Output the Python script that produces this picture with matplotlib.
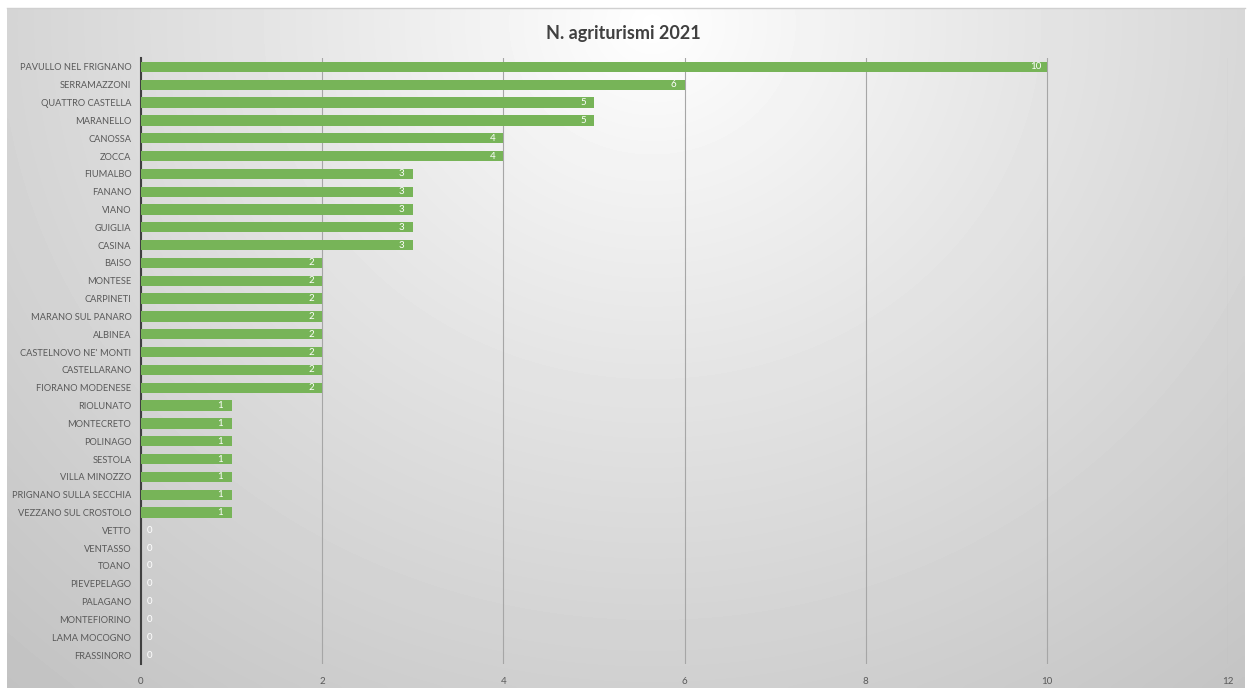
import numpy as np
import matplotlib
matplotlib.use("Agg")
import matplotlib.pyplot as plt

plt.rcParams['font.family'] = ['Lato', 'DejaVu Sans']

# comuni and number of agriturismi (2021)
comuni = ["PAVULLO NEL FRIGNANO", "SERRAMAZZONI", "QUATTRO CASTELLA", "MARANELLO",
          "CANOSSA", "ZOCCA", "FIUMALBO", "FANANO", "VIANO", "GUIGLIA", "CASINA",
          "BAISO", "MONTESE", "CARPINETI", "MARANO SUL PANARO", "ALBINEA",
          "CASTELNOVO NE' MONTI", "CASTELLARANO", "FIORANO MODENESE", "RIOLUNATO",
          "MONTECRETO", "POLINAGO", "SESTOLA", "VILLA MINOZZO",
          "PRIGNANO SULLA SECCHIA", "VEZZANO SUL CROSTOLO", "VETTO", "VENTASSO",
          "TOANO", "PIEVEPELAGO", "PALAGANO", "MONTEFIORINO", "LAMA MOCOGNO",
          "FRASSINORO"]
n_agriturismi = [10, 6, 5, 5, 4, 4, 3, 3, 3, 3, 3, 2, 2, 2, 2, 2, 2, 2, 2,
                 1, 1, 1, 1, 1, 1, 1, 0, 0, 0, 0, 0, 0, 0, 0]
x_ticks = [0, 2, 4, 6, 8, 10, 12]

bar_color = '#77b458'
text_color = '#595959'

fig = plt.figure(figsize=(12.47, 6.88), dpi=100)

# %% background: radial grey gradient like the Excel chart area
bg = fig.add_axes([7 / 1247, 0, 1 - 9 / 1247, 1 - 8 / 688], zorder=-10)
h, w = 200, 360
yy, xx = np.mgrid[0:h, 0:w]
cx, cy = 0.52 * w, 0.02 * h
r = np.sqrt(((xx - cx) / w) ** 2 + ((yy - cy) / h * 0.6) ** 2)
r = r / r.max()
shade = 1.0 - 0.24 * np.clip(r, 0, 1) ** 0.9
bg.imshow(shade, cmap='gray', vmin=0, vmax=1, aspect='auto',
          extent=[0, 1, 0, 1], origin='upper', interpolation='bicubic')
bg.set_xticks([])
bg.set_yticks([])
for side in ['left', 'bottom', 'right']:
    bg.spines[side].set_visible(False)
bg.spines['top'].set_color('#d0d0d0')
bg.spines['top'].set_linewidth(1)

# %% bar chart
ax = fig.add_axes([141 / 1247, 1 - 664 / 688, (1228 - 141) / 1247, 606 / 688])
ax.patch.set_alpha(0)

y = np.arange(len(comuni))
ax.barh(y, n_agriturismi, height=0.58, color=bar_color, zorder=3)

for yi, v in zip(y, n_agriturismi):
    if v > 0:
        ax.annotate(str(v), (v, yi), xytext=(-8, 0), textcoords='offset points',
                    ha='center', va='center', color='white', fontsize=7, zorder=4)
    else:
        ax.annotate(str(v), (v, yi), xytext=(6, 0), textcoords='offset points',
                    ha='center', va='center', color='white', fontsize=7, zorder=4)

ax.set_xlim(0, 12)
ax.set_ylim(len(comuni) - 0.5, -0.5)
ax.set_xticks(x_ticks)
ax.set_yticks(y)
ax.set_yticklabels(comuni, fontsize=6.7)
ax.tick_params(axis='both', length=0, colors=text_color)
ax.tick_params(axis='x', pad=9, labelsize=7)
ax.tick_params(axis='y', pad=7)

ax.grid(axis='x', color='#a6a6a6', linewidth=0.8, zorder=0)
for side in ['top', 'right', 'bottom']:
    ax.spines[side].set_visible(False)
ax.spines['left'].set_color('#404040')
ax.spines['left'].set_linewidth(1.5)

fig.text(0.5, 1 - 33 / 688, 'N. agriturismi 2021', ha='center', va='center',
         fontsize=13, fontweight='bold', color='#404040')

fig.savefig('out.png', dpi=100)
